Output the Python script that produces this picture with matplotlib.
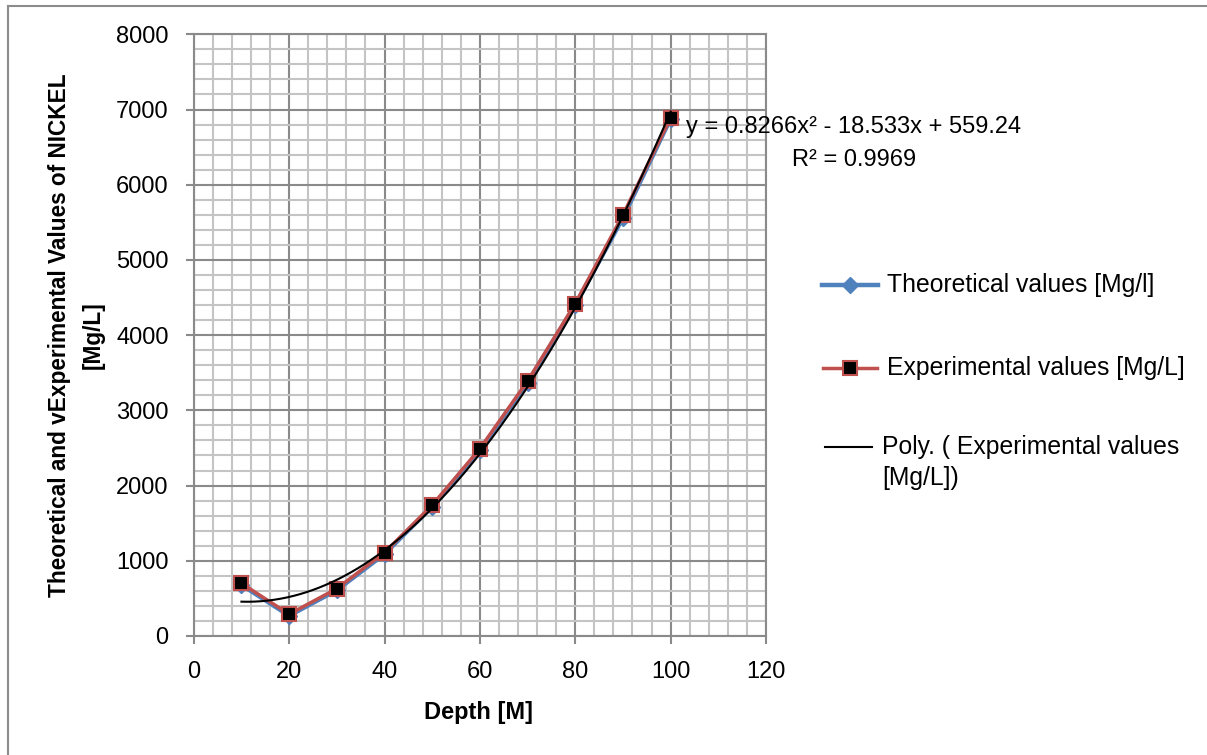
#!/usr/bin/env python3
"""Theoretical vs experimental nickel values against depth, with a poly trendline."""

import numpy as np
import matplotlib
matplotlib.use("Agg")
import matplotlib.pyplot as plt
from matplotlib.lines import Line2D
from matplotlib.ticker import MultipleLocator

depth = [10, 20, 30, 40, 50, 60, 70, 80, 90, 100]
theoretical = [680, 270, 610, 1090, 1720, 2470, 3370, 4400, 5560, 6880]
experimental = [700, 290, 630, 1110, 1740, 2490, 3390, 4420, 5600, 6890]

# trendline coefficients as printed on the chart (a*x^2 + b*x + c)
trend_coef = [0.8266, -18.533, 559.24]
trend_r2 = 0.9969

W, H = 1207, 755
BLUE = "#4F81BD"
RED = "#C0504D"

plt.rcParams["font.family"] = ["Liberation Sans", "DejaVu Sans"]

fig = plt.figure(figsize=(W / 100, H / 100), dpi=100)


def fx(px):
    return px / W


def fy(py):
    return 1 - py / H


# outer chart border (left and top edges only show in the frame)
fig.add_artist(Line2D([fx(7.5), fx(7.5)], [fy(6), 0], color="#8c8c8c", linewidth=1.5))
fig.add_artist(Line2D([fx(7.5), 1], [fy(6), fy(6)], color="#8c8c8c", linewidth=1.5))

ax = fig.add_axes([fx(193.75), fy(636), fx(766) - fx(193.75), fy(34.3) - fy(636)])

ax.plot(depth, theoretical, color=BLUE, linewidth=3.2, marker="D",
        markersize=8, markerfacecolor=BLUE, markeredgecolor=BLUE, zorder=3)
ax.plot(depth, experimental, color=RED, linewidth=2.5, marker="s",
        markersize=10, markerfacecolor="black", markeredgecolor=RED,
        markeredgewidth=1.5, zorder=4)
xs = np.linspace(depth[0], depth[-1], 200)
ax.plot(xs, np.polyval(trend_coef, xs), color="black", linewidth=1.5, zorder=5)

ax.set_xlim(0, 120)
ax.set_ylim(0, 8000)
ax.xaxis.set_major_locator(MultipleLocator(20))
ax.xaxis.set_minor_locator(MultipleLocator(4))
ax.yaxis.set_major_locator(MultipleLocator(1000))
ax.yaxis.set_minor_locator(MultipleLocator(200))
ax.grid(which="major", color="#8a8a8a", linewidth=1.5)
ax.grid(which="minor", color="#c4c4c4", linewidth=1.5)
ax.set_axisbelow(True)
for sp in ax.spines.values():
    sp.set_color("#8a8a8a")
    sp.set_linewidth(1.5)
ax.tick_params(which="major", direction="out", length=6, width=1.5, color="#8a8a8a",
               labelsize=17, pad=12)
ax.tick_params(which="minor", length=0)

fig.text(fx(478), fy(712), "Depth [M]", ha="center", va="center",
         fontsize=17, fontweight="bold")
fig.text(fx(60), fy(335), "Theoretical and vExperimental Values of NICKEL",
         ha="center", va="center", rotation=90, fontsize=16.3, fontweight="bold")
fig.text(fx(93), fy(335), "[Mg/L]", ha="center", va="center", rotation=90,
         fontsize=16.3, fontweight="bold")

a, b, c = trend_coef
fig.text(fx(854), fy(127), f"y = {a}x² - {abs(b)}x + {c}", ha="center", va="center",
         fontsize=17)
fig.text(fx(854), fy(160), f"R² = {trend_r2}", ha="center", va="center", fontsize=17)

# legend, laid out by hand to follow the original spacing
fig.add_artist(Line2D([fx(822), fx(878)], [fy(285), fy(285)], color=BLUE, linewidth=3.2))
fig.add_artist(Line2D([fx(850)], [fy(285)], color=BLUE, marker="D", markersize=8))
fig.text(fx(887), fy(285), "Theoretical values [Mg/l]", va="center", fontsize=17.8)

fig.add_artist(Line2D([fx(823), fx(877)], [fy(368), fy(368)], color=RED, linewidth=2.5))
fig.add_artist(Line2D([fx(850)], [fy(368)], marker="s", markersize=10,
                      markerfacecolor="black", markeredgecolor=RED, markeredgewidth=1.5))
fig.text(fx(887), fy(368), "Experimental values [Mg/L]", va="center", fontsize=17.8)

fig.add_artist(Line2D([fx(825), fx(872)], [fy(447), fy(447)], color="black", linewidth=1.5))
fig.text(fx(882), fy(447), "Poly. ( Experimental values", va="center", fontsize=17.8)
fig.text(fx(882), fy(478), "[Mg/L])", va="center", fontsize=17.8)

fig.savefig("out.png", dpi=100)
